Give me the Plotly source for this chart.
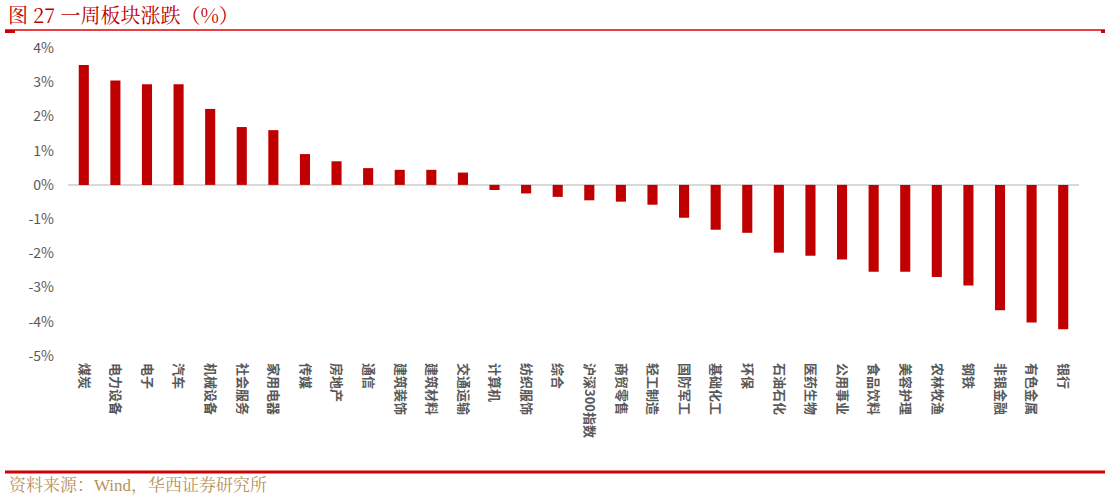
import plotly.graph_objects as go

categories = ["煤炭", "电力设备", "电子", "汽车", "机械设备", "社会服务", "家用电器", "传媒",
              "房地产", "通信", "建筑装饰", "建筑材料", "交通运输", "计算机", "纺织服饰", "综合",
              "沪深300指数", "商贸零售", "轻工制造", "国防军工", "基础化工", "环保", "石油石化",
              "医药生物", "公用事业", "食品饮料", "美容护理", "农林牧渔", "钢铁", "非银金融",
              "有色金属", "银行"]
values = [3.50, 3.05, 2.94, 2.94, 2.22, 1.69, 1.60, 0.90,
          0.69, 0.49, 0.44, 0.44, 0.36, -0.15, -0.25, -0.35,
          -0.45, -0.49, -0.58, -0.96, -1.31, -1.40, -1.98,
          -2.07, -2.18, -2.54, -2.54, -2.69, -2.94, -3.66,
          -4.02, -4.22]
ytick_vals = [4, 3, 2, 1, 0, -1, -2, -3, -4, -5]
ytick_text = ["4%", "3%", "2%", "1%", "0%", "-1%", "-2%", "-3%", "-4%", "-5%"]

title_text = "图 27 一周板块涨跌（%）"
source_text = "资料来源：Wind，华西证券研究所"

RED = "#C00000"
PW, PH = 1011, 308

fig = go.Figure()
fig.add_trace(go.Bar(x=categories, y=values, marker=dict(color=RED, line=dict(width=0)),
                     hoverinfo="x+y"))

fig.update_layout(
    width=1105, height=499,
    margin=dict(l=68, r=26, t=48, b=143),
    paper_bgcolor="white", plot_bgcolor="white",
    bargap=0.68,
    showlegend=False,
    font=dict(family="Noto Sans CJK SC, sans-serif", color="#595959", size=13),
    xaxis=dict(tickangle=90, showgrid=False, showline=False, ticks="", automargin=False,
               tickfont=dict(size=13, color="#595959", family="Noto Sans CJK SC", weight="bold"),
               ticklabelstandoff=6),
    yaxis=dict(range=[-5, 4], tickvals=ytick_vals, ticktext=ytick_text, showgrid=False,
               zeroline=True, zerolinecolor="#D9D9D9", zerolinewidth=2, automargin=False,
               showline=False, ticks="", tickfont=dict(size=14, color="#595959"),
               ticklabelstandoff=13),
)

# title and decorative lines
fig.add_annotation(text=title_text, xref="paper", yref="paper", x=-62/PW, y=1 + 33/PH,
                   xanchor="left", yanchor="middle", showarrow=False,
                   font=dict(size=20, color=RED, family="Noto Serif CJK SC, Liberation Serif, Noto Sans CJK SC"))
fig.add_shape(type="line", xref="paper", yref="paper", x0=-63/PW, x1=1 + 26/PW,
              y0=1 + 18/PH, y1=1 + 18/PH, line=dict(color="#E00000", width=1.5))
fig.add_shape(type="line", xref="paper", yref="paper", x0=-63/PW, x1=-53/PW,
              y0=1 + 16.5/PH, y1=1 + 16.5/PH, line=dict(color="#D00000", width=3))
fig.add_shape(type="line", xref="paper", yref="paper", x0=1 + 22/PW, x1=1 + 26/PW,
              y0=1 + 16.5/PH, y1=1 + 16.5/PH, line=dict(color="#D00000", width=3))
fig.add_shape(type="line", xref="paper", yref="paper", x0=-63/PW, x1=1 + 26/PW,
              y0=-116/PH, y1=-116/PH, line=dict(color="#D00000", width=3))
fig.add_annotation(text=source_text, xref="paper", yref="paper", x=-61/PW, y=-129/PH,
                   xanchor="left", yanchor="middle", showarrow=False,
                   font=dict(size=17, color="#B8925A",
                             family="Liberation Serif, Noto Serif CJK SC, Noto Sans CJK SC"))

fig.write_html("out.html", config={"displayModeBar": False},
               post_script="document.body.style.margin='0';document.body.style.padding='0';"
                           "document.body.style.overflow='hidden';")
